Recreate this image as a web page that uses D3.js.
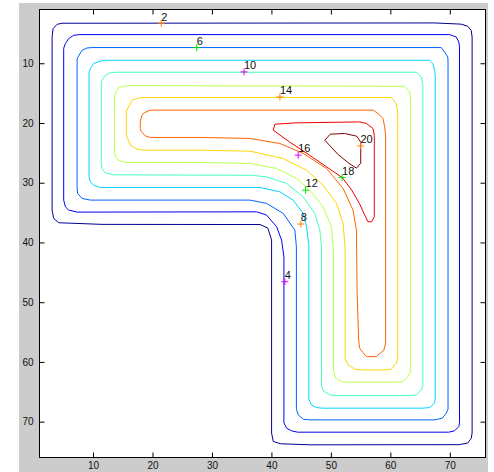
<!DOCTYPE html>
<html>
<head>
<meta charset="UTF-8">
<title>Contour plot</title>
<script src="https://cdn.jsdelivr.net/npm/d3@7/dist/d3.min.js"></script>
<style>
  body { margin: 0; background: #fff; }
  svg text { font-family: "Liberation Sans", Arial, sans-serif; }
</style>
</head>
<body>
<div id="chart"></div>
<script>
// contour levels and their jet colours
var levels = [2, 4, 6, 8, 10, 12, 14, 16, 18, 20];
var lineColors = ["#000090", "#0000f0", "#0063ff", "#00d4ff", "#47ffb8",
                  "#b8ff47", "#ffd400", "#ff6300", "#f00000", "#800000"];

// contour vertices [x, y] (data units)
var contour2 = [[3.12,5.6],[3.29,4.2],[3.96,3.48],[4.8,3.3],[67.4,3.25],[71.9,3.45],[73.0,3.8],[73.6,4.5],[73.75,5.6],
  [73.75,71.9],[73.6,72.8],[73.0,73.6],[71.5,73.85],[46.5,73.88],[41.5,73.7],[40.3,73.3],[40.03,71.9],
  [40.03,39.6],[39.4,37.6],[38.1,37.0],[11.5,36.97],[4.23,36.7],[3.38,35.97],[3.12,34.58]];
var contour4 = [[5.07,7.5],[5.35,6.71],[5.91,5.87],[6.74,5.32],[7.8,5.2],[69.95,5.2],[71.07,5.6],[71.51,6.44],[71.63,7.27],
  [71.63,70.2],[71.51,70.82],[70.79,71.54],[69.8,71.76],[44.4,71.76],[43.39,71.54],[42.55,71.09],[42.1,70.2],
  [42.1,42.4],[41.71,39.6],[40.87,37.37],[39.19,35.42],[37.52,34.87],[7.32,34.92],[5.91,34.58],[5.35,34.03],[5.07,32.91]];
var contour6 = [[7.32,9.3],[7.48,8.95],[8.15,7.83],[8.99,7.44],[10.0,7.37],[68.56,7.37],[69.11,8.11],[69.66,8.95],[69.7,9.8],
  [69.7,67.9],[69.4,68.58],[68.72,69.41],[67.5,69.7],[46.5,69.7],[45.34,69.58],[44.5,68.86],[44.2,67.9],
  [44.2,40.72],[43.94,37.93],[41.98,35.13],[39.19,33.46],[36.39,32.91],[9.55,32.91],[8.15,32.63],[7.41,31.79],[7.32,30.9]];
var contour8 = [[9.33,11.5],[9.55,10.89],[10.1,10.05],[11.22,9.62],[12.2,9.5],[66.59,9.5],[67.15,10.05],[67.43,11.17],[67.55,12.0],
  [67.55,66.2],[67.43,66.91],[66.59,67.64],[65.5,67.74],[48.6,67.74],[47.58,67.64],[46.74,67.19],[46.3,66.2],
  [46.3,40.5],[46.17,39.6],[45.91,37.37],[45.34,35.13],[43.66,32.91],[41.41,31.52],[38.07,30.79],[11.22,30.79],[10.1,30.4],[9.55,29.85],[9.33,29.0]];
var contour10 = [[11.39,13.5],[11.51,12.84],[12.06,12.01],[12.9,11.56],[14.0,11.5],[64.36,11.5],[65.2,12.29],[65.47,13.68],
  [65.47,63.9],[65.2,64.68],[64.36,65.52],[63.3,65.64],[50.9,65.64],[49.82,65.52],[48.69,64.85],[48.42,63.9],
  [48.42,40.72],[48.14,37.93],[47.3,35.13],[45.34,32.36],[42.55,30.12],[39.19,29.01],[36.5,28.75],[13.46,28.68],[12.06,28.34],[11.51,27.61],[11.39,26.8]];
var contour12 = [[13.62,15.6],[13.74,15.07],[14.3,14.06],[15.42,13.8],[16.5,13.75],[62.4,13.85],[63.24,14.8],[63.41,16.19],
  [63.41,61.6],[62.95,62.46],[62.11,63.3],[61.0,63.39],[52.8,63.39],[51.78,63.3],[50.82,62.73],[50.45,61.6],
  [50.45,42.0],[50.37,40.72],[50.1,37.37],[48.69,34.03],[46.46,31.24],[44.23,29.28],[40.87,27.61],[36.39,26.77],[28.0,26.61],
  [15.42,26.61],[14.3,26.22],[13.74,25.67],[13.62,24.8]];
var contour14 = [[15.6,18.0],[15.97,17.31],[16.54,16.19],[17.65,15.8],[18.8,15.74],[60.17,15.74],[61.01,16.74],[61.25,18.41],
  [61.25,59.4],[61.01,60.22],[60.17,61.22],[59.0,61.34],[55.2,61.34],[54.01,61.22],[52.89,60.5],[52.4,59.4],
  [52.4,42.0],[52.33,40.15],[52.05,36.81],[50.94,33.46],[48.69,30.4],[45.91,27.89],[41.98,25.94],[36.39,24.72],[28.0,24.55],
  [18.5,24.55],[17.38,24.38],[16.26,23.71],[15.6,22.04]];
var contour16 = [[17.94,19.82],[18.22,18.7],[18.6,18.3],[19.61,17.86],[20.8,17.85],[57.1,17.85],[57.92,18.41],[58.76,19.25],[59.04,20.65],[59.2,22.0],
  [59.2,56.87],[58.88,58.11],[57.92,58.83],[57.65,59.11],[55.97,59.11],[55.4,58.44],[54.85,57.71],[54.68,56.5],
  [54.4,47.96],[54.3,37.93],[53.72,34.58],[52.05,30.95],[49.26,27.61],[45.34,25.1],[41.41,23.43],[36.39,22.59],[28.0,22.42],
  [19.61,22.42],[18.78,22.16],[18.1,21.4],[17.94,20.92]];
var contour18 = [[40.3,21.2],[40.58,20.2],[42.55,20.08],[43.94,19.98],[54.85,19.82],[55.97,20.08],[57.08,20.92],[57.3,22.04],
  [57.3,35.7],[56.86,36.54],[56.24,36.54],[55.69,35.42],[54.85,33.58],[53.51,31.24],[51.88,29.11],[49.26,27.34],[46.41,25.38],[43.1,23.21]];
var contour20 = [[48.98,22.88],[49.9,21.87],[52.33,21.76],[54.35,22.21],[55.02,23.21],[55.02,26.72],[54.3,27.56],[53.0,26.72],[51.16,25.22]];

var contourLines = [contour2, contour4, contour6, contour8, contour10,
                    contour12, contour14, contour16, contour18, contour20];

// inline labels (clabel) : value, marker position, marker colour
var labelValues = [2, 6, 10, 14, 16, 12, 18, 8, 20, 4];
var labelX = [21.46, 27.45, 35.39, 41.43, 44.5, 45.74, 51.88, 44.95, 54.97, 42.26];
var labelY = [3.3, 7.38, 11.45, 15.64, 25.38, 31.24, 29.11, 36.92, 23.83, 46.57];
var labelColors = ["#ff8000", "#00e000", "#e000ff", "#ff8000", "#e000ff",
                   "#00e000", "#00e000", "#ff8000", "#ff8000", "#e000ff"];

var xTicks = [10, 20, 30, 40, 50, 60, 70];
var yTicks = [10, 20, 30, 40, 50, 60, 70];

var width = 494, height = 472;
var plotLeft = 39.5, plotRight = 485.5, plotTop = 9.5, plotBottom = 457.5;

var svg = d3.select("#chart").append("svg")
  .attr("width", width)
  .attr("height", height);

// figure background
svg.append("rect")
  .attr("x", 19).attr("y", 3)
  .attr("width", 469).attr("height", 469)
  .attr("fill", "#cccccc");

svg.append("rect")
  .attr("x", plotLeft).attr("y", plotTop)
  .attr("width", plotRight - plotLeft).attr("height", plotBottom - plotTop)
  .attr("fill", "#fff");

var x = d3.scaleLinear().domain([1, 76]).range([plotLeft, plotRight]);
var y = d3.scaleLinear().domain([1, 76]).range([plotTop, plotBottom]);

svg.append("clipPath").attr("id", "clip")
  .append("rect")
  .attr("x", plotLeft).attr("y", plotTop)
  .attr("width", plotRight - plotLeft).attr("height", plotBottom - plotTop);

var line = d3.line()
  .x(function(d) { return x(d[0]); })
  .y(function(d) { return y(d[1]); })
  .curve(d3.curveLinearClosed);

svg.append("g").attr("clip-path", "url(#clip)")
  .selectAll("path")
  .data(contourLines)
  .enter().append("path")
  .attr("d", line)
  .attr("fill", "none")
  .attr("stroke", function(d, i) { return lineColors[i]; })
  .attr("stroke-width", 1);

// labels
var lab = svg.append("g").selectAll("g")
  .data(labelValues)
  .enter().append("g")
  .attr("transform", function(d, i) { return "translate(" + x(labelX[i]) + "," + y(labelY[i]) + ")"; });

lab.append("path")
  .attr("d", "M-3.5,0H3.5M0,-3.5V3.5")
  .attr("stroke", function(d, i) { return labelColors[i]; })
  .attr("stroke-width", 1);

lab.append("text")
  .attr("x", 0)
  .attr("y", -2.7)
  .attr("font-size", 11)
  .attr("fill", "#111")
  .text(function(d) { return d; });

// axes, ticks pointing inwards
function styleAxis(g) {
  g.select(".domain").remove();
  g.selectAll("line").attr("stroke", "#000");
  g.selectAll("text").attr("fill", "#111")
    .attr("font-family", "'Liberation Sans', Arial, sans-serif")
    .attr("font-size", 10);
}

svg.append("g")
  .attr("transform", "translate(0," + plotBottom + ")")
  .call(d3.axisBottom(x).tickValues(xTicks).tickSize(-5).tickPadding(4))
  .call(styleAxis);

svg.append("g")
  .attr("transform", "translate(0," + plotTop + ")")
  .call(d3.axisTop(x).tickValues(xTicks).tickSize(-5).tickFormat(""))
  .call(styleAxis);

svg.append("g")
  .attr("transform", "translate(" + plotLeft + ",0)")
  .call(d3.axisLeft(y).tickValues(yTicks).tickSize(-5).tickPadding(6))
  .call(styleAxis);

svg.append("g")
  .attr("transform", "translate(" + plotRight + ",0)")
  .call(d3.axisRight(y).tickValues(yTicks).tickSize(-5).tickFormat(""))
  .call(styleAxis);

svg.append("rect")
  .attr("x", plotLeft).attr("y", plotTop)
  .attr("width", plotRight - plotLeft).attr("height", plotBottom - plotTop)
  .attr("fill", "none")
  .attr("stroke", "#000")
  .attr("stroke-width", 1);
</script>
</body>
</html>
